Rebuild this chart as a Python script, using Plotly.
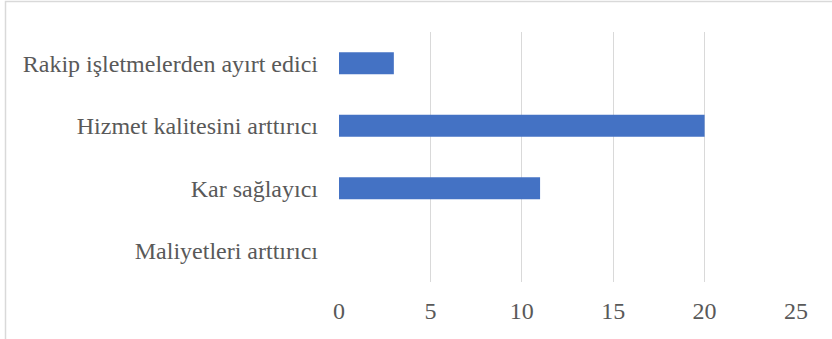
import plotly.graph_objects as go

# Survey responses per perceived effect
categories = [
    "Maliyetleri arttırıcı",
    "Kar sağlayıcı",
    "Hizmet kalitesini arttırıcı",
    "Rakip işletmelerden ayırt edici",
]
counts = [0, 11, 20, 3]
x_ticks = [0, 5, 10, 15, 20, 25]

font_family = "Liberation Serif, Times New Roman, serif"
grid_color = "#d9d9d9"
label_color = "#595959"
font_size = 24

fig = go.Figure(
    go.Bar(
        x=counts,
        y=categories,
        orientation="h",
        marker=dict(color="#4472C4", line=dict(width=0)),
        hoverinfo="x+y",
    )
)

fig.update_layout(
    width=832,
    height=339,
    margin=dict(l=339, r=36, t=32, b=57),
    paper_bgcolor="white",
    plot_bgcolor="white",
    bargap=0.65,
    showlegend=False,
    font=dict(family=font_family, size=font_size, color=label_color),
    xaxis=dict(
        range=[0, 25],
        tickvals=x_ticks,
        showgrid=True,
        gridcolor=grid_color,
        gridwidth=1,
        zeroline=False,
        showline=False,
        ticks="",
        ticklabelstandoff=12,
        tickfont=dict(family=font_family, size=font_size, color=label_color),
        fixedrange=True,
    ),
    yaxis=dict(
        categoryorder="array",
        categoryarray=categories,
        showgrid=False,
        zeroline=False,
        showline=False,
        ticks="",
        ticklabelstandoff=20,
        tickfont=dict(family=font_family, size=font_size, color=label_color),
        fixedrange=True,
    ),
    shapes=[
        dict(
            type="rect",
            xref="paper",
            yref="paper",
            x0=(5.5 - 339) / 457,
            x1=(834 - 339) / 457,
            y0=(282 - 342) / 250,
            y1=(282 - 1.5) / 250,
            line=dict(color="#d9d9d9", width=1.5),
            fillcolor="rgba(0,0,0,0)",
            layer="below",
        )
    ],
)

fig.write_html("out.html")
